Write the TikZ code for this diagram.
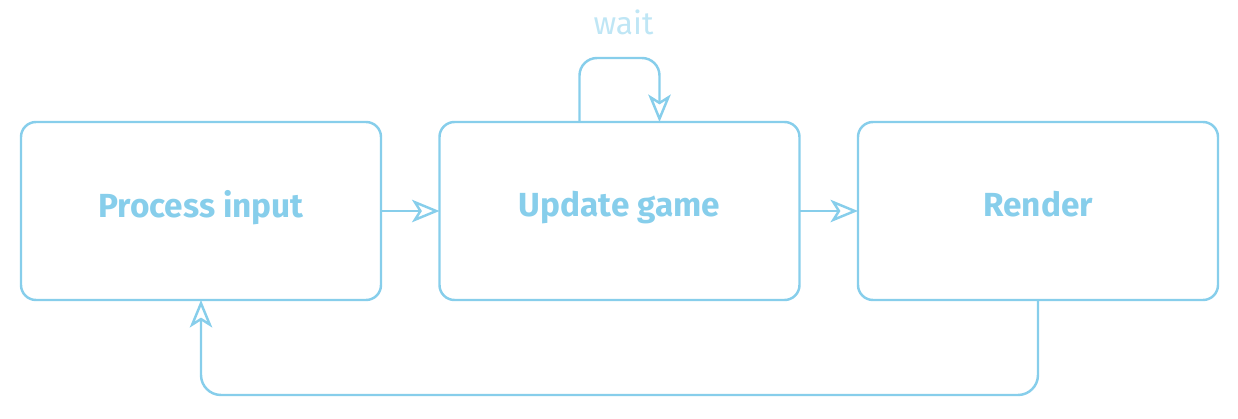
\documentclass[tikz,border=0pt]{standalone}
\usepackage{fontspec}
\setmainfont{Fira Sans}
\usepackage{tikz}
\usetikzlibrary{arrows.meta,positioning,calc}

\definecolor{sky}{HTML}{87CEEB}
\definecolor{skylight}{HTML}{BFE6F5}

\begin{document}
\begin{tikzpicture}[node distance=1.17cm, outer sep=0pt,
    stagebox/.style={rectangle, draw=sky, line width=1.4pt, rounded corners=0.3cm, minimum width=7.2cm, minimum height=3.56cm, text=sky, font=\fontsize{19}{22}\selectfont\bfseries, text depth=0.3cm},
    flow/.style={draw=sky, line width=1.4pt, -{Stealth[open, length=0.55cm, width=0.45cm, inset=0.14cm]}}]
        \useasboundingbox (0,0) rectangle (24.76,8.36);
        \node (process) [stagebox] at (4.02,4.14) {Process input};
        \node (update) [stagebox, right=of process] {Update game};
        \node (render) [stagebox, right=of update] {Render};

        \draw[flow] (process.east) -- (update.west);
        \draw[flow] (update.east) -- (render.west);
        % wait loop on top of update
        \draw[flow, rounded corners=0.35cm] ([xshift=-0.8cm]update.north) -- ++(0,1.28) -| ([xshift=0.8cm]update.north);
        \node (wait) [text=skylight, font=\fontsize{18}{20}\selectfont] at ($(update.north)+(0.08,2.0)$) {wait};
        % back to input
        \draw[flow, rounded corners=0.4cm] (render.south) -- ++(0,-1.9) -| (process.south);
    \end{tikzpicture}
\end{document}
